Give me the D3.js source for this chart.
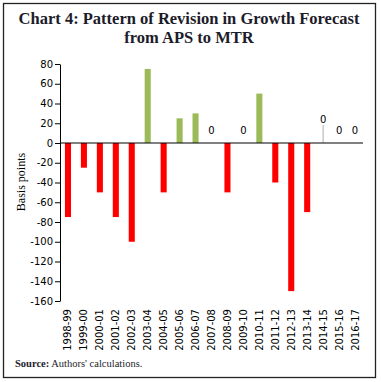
<!DOCTYPE html>
<html>
<head>
<meta charset="utf-8">
<script src="https://cdn.jsdelivr.net/npm/d3@7"></script>
<style>
  body { margin: 0; background: #fff; }
  svg { display: block; }
</style>
</head>
<body>
<div id="chart"></div>
<script>
// data
const years = ["1998-99", "1999-00", "2000-01", "2001-02", "2002-03", "2003-04", "2004-05",
  "2005-06", "2006-07", "2007-08", "2008-09", "2009-10", "2010-11", "2011-12", "2012-13",
  "2013-14", "2014-15", "2015-16", "2016-17"];
const revision = [-75, -25, -50, -75, -100, 75, -50, 25, 30, 0, -50, 0, 50, -40, -150, -70, 0, 0, 0];
const yTicks = [80, 60, 40, 20, 0, -20, -40, -60, -80, -100, -120, -140, -160];

const W = 381, H = 382;
const margin = { top: 64, right: 18, bottom: 81, left: 60 };

const svg = d3.select("#chart").append("svg")
  .attr("width", W)
  .attr("height", H);

// frame
svg.append("rect")
  .attr("x", 3.5).attr("y", 3.5)
  .attr("width", 372).attr("height", 374)
  .attr("fill", "none")
  .attr("stroke", "#222")
  .attr("stroke-width", 1.3);

// title
const title = svg.append("text")
  .attr("text-anchor", "middle")
  .attr("font-family", "Liberation Serif, serif")
  .attr("font-weight", "bold")
  .attr("font-size", "16.5px")
  .attr("fill", "#1c1c2a");
title.append("tspan").attr("x", 189).attr("y", 24).text("Chart 4: Pattern of Revision in Growth Forecast");
title.append("tspan").attr("x", 189).attr("y", 43).text("from APS to MTR");

const x = d3.scaleBand()
  .domain(years)
  .range([margin.left, W - margin.right])
  .paddingInner(0.62)
  .paddingOuter(0.31);

const y = d3.scaleLinear()
  .domain([-160, 80])
  .range([H - margin.bottom, margin.top]);

// y axis
const yAxis = svg.append("g")
  .attr("transform", `translate(${margin.left},0)`)
  .call(d3.axisLeft(y).tickValues(yTicks).tickSize(5).tickSizeOuter(0).tickFormat(d => String(d)));
yAxis.select(".domain").attr("stroke", "#000");
yAxis.selectAll("text")
  .attr("font-family", "DejaVu Sans, sans-serif")
  .attr("font-size", "10px")
  .attr("fill", "#000")
  .attr("x", -7);

// bars
svg.append("g").selectAll("rect")
  .data(years.map((d, i) => ({ year: d, val: revision[i] })).filter(d => d.val !== 0))
  .join("rect")
  .attr("x", d => x(d.year))
  .attr("width", x.bandwidth())
  .attr("y", d => y(Math.max(0, d.val)))
  .attr("height", d => Math.abs(y(d.val) - y(0)))
  .attr("fill", d => d.val > 0 ? "#9bbb59" : "#ff0000");

// zero labels
const zeros = years.map((d, i) => ({ year: d, val: revision[i] })).filter(d => d.val === 0);
svg.append("g").selectAll("text")
  .data(zeros)
  .join("text")
  .attr("x", d => x(d.year) + x.bandwidth() / 2)
  .attr("y", d => d.year === "2014-15" ? y(0) - 20 : y(0) - 9)
  .attr("text-anchor", "middle")
  .attr("font-family", "DejaVu Sans, sans-serif")
  .attr("font-size", "10px")
  .attr("fill", "#000")
  .text(d => d.val);

// leader line for 2014-15 label
svg.append("line")
  .attr("x1", x("2014-15") + x.bandwidth() / 2)
  .attr("x2", x("2014-15") + x.bandwidth() / 2)
  .attr("y1", y(0))
  .attr("y2", y(0) - 18)
  .attr("stroke", "#999")
  .attr("stroke-width", 0.8);

// x axis at zero
svg.append("line")
  .attr("x1", margin.left)
  .attr("x2", W - margin.right)
  .attr("y1", y(0))
  .attr("y2", y(0))
  .attr("stroke", "#000")
  .attr("stroke-width", 1);

// category labels (below plot, rotated)
svg.append("g").selectAll("text")
  .data(years)
  .join("text")
  .attr("transform", d => `translate(${x(d) + x.bandwidth() / 2 + 3.5},${y(-160) + 8}) rotate(-90)`)
  .attr("text-anchor", "end")
  .attr("font-family", "DejaVu Sans, sans-serif")
  .attr("font-size", "10px")
  .attr("fill", "#000")
  .text(d => d);

// y axis title
svg.append("text")
  .attr("transform", `translate(25,182) rotate(-90)`)
  .attr("text-anchor", "middle")
  .attr("font-family", "Liberation Serif, serif")
  .attr("font-size", "12px")
  .attr("fill", "#000")
  .text("Basis points");

// source
const src = svg.append("text")
  .attr("x", 15)
  .attr("y", 367)
  .attr("font-family", "Liberation Serif, serif")
  .attr("font-size", "10.5px")
  .attr("fill", "#1c1c2a");
src.append("tspan").attr("font-weight", "bold").text("Source:");
src.append("tspan").text(" Authors' calculations.");
</script>
</body>
</html>
